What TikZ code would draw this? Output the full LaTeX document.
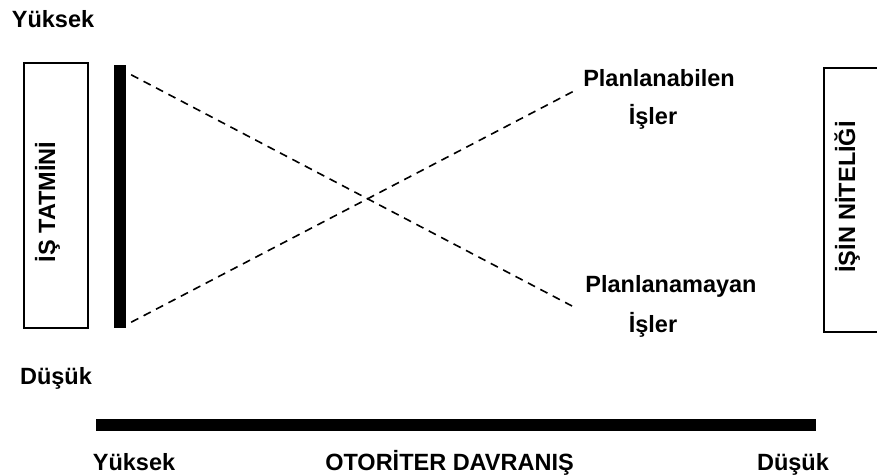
\documentclass[tikz,border=0pt]{standalone}
\usepackage{fontspec}
\setmainfont{Liberation Sans}
\usepackage{tikz}
\usetikzlibrary{positioning}

\begin{document}
\begin{tikzpicture}[x=1pt,y=-1pt,
    lbl/.style={font=\bfseries\fontsize{23.5}{28}\selectfont,inner sep=0pt,anchor=base},
    eksen/.style={draw,line width=2pt,inner sep=0pt},
    cubuk/.style={fill,inner sep=0pt},
    kesik/.style={dash pattern=on 8pt off 6pt,line width=1.6pt}]
    \useasboundingbox (0,0) rectangle (877,474);

    % dikey eksen kutulari
    \node[eksen,minimum width=64pt,minimum height=265pt] (tatmin) at (55.5,195.5) {};
    \node[eksen,minimum width=64pt,minimum height=264pt,anchor=north west] (nitelik) at (823,67) {};
    \node[lbl,rotate=90] (tatminyazi) at (55,202) {İŞ TATMİNİ};
    \node[lbl,rotate=90] (nitelikyazi) at (855,197) {İŞİN NİTELİĞİ};

    % kalin cubuklar
    \node[cubuk,minimum width=12pt,minimum height=263pt] (dikey) at (120,196.5) {};
    \node[cubuk,minimum width=720pt,minimum height=12pt] (yatay) at (456,425) {};

    \foreach \i/\x/\y/\name in {ust/53/27/Yüksek, alt/56/384/Düşük,
        yuk/134/470/Yüksek, dus/793/470/Düşük}{
        \node[lbl] (\i) at (\x,\y) {\name};
    }
    \node[lbl] (otoriter) at (449.5,470) {OTORİTER DAVRANIŞ};

    \node[lbl] (pa) at (659,86) {Planlanabilen};
    \node[lbl] (pa2) at (653,124) {İşler};
    \node[lbl] (pn) at (671,292) {Planlanamayan};
    \node[lbl] (pn2) at (653,332) {İşler};

    % kesikli cizgiler
    \coordinate (d1) at ([shift={(5,10)}]dikey.north east);
    \coordinate (d2) at ([shift={(5,-6)}]dikey.south east);
    \coordinate (u1) at (574,91);
    \coordinate (u2) at (572,306);
    \draw[kesik] (d1) -- (u2);
    \draw[kesik] (d2) -- (u1);
\end{tikzpicture}
\end{document}
